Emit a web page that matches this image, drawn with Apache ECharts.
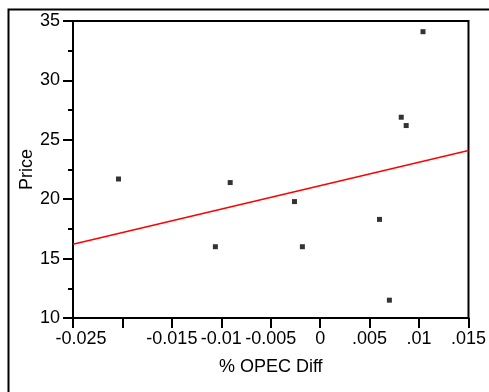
<!DOCTYPE html>
<html>
<head>
<meta charset="utf-8">
<script src="https://cdn.jsdelivr.net/npm/echarts@6/dist/echarts.min.js"></script>
<style>
  html, body { margin: 0; padding: 0; background: #fff; }
  #chart { width: 489px; height: 392px; }
</style>
</head>
<body>
<div id="chart"></div>
<script>
// OPEC production change vs. oil price
const opecDiff = [-0.0204, -0.0091, 0.0104, 0.0082, 0.0087, -0.0106, -0.0026, -0.0018, 0.0060, 0.0070];
const price    = [21.7, 21.4, 34.1, 26.9, 26.2, 16.0, 19.8, 16.0, 18.3, 11.5];

// fitted regression line (end points)
const fitX = [-0.025, 0.015];
const fitY = [16.2, 24.1];

// x tick labels, -0.025 .. 0.015 every 0.005 (the -0.02 label is left blank)
const xTickLabels = ['-0.025', '', '-0.015', '-0.01', '-0.005', '0', '.005', '.01', '.015'];

const FONT = "'Liberation Sans', Arial, sans-serif";
const FS = 18;

const chart = echarts.init(document.getElementById('chart'), null, { renderer: 'canvas' });

chart.setOption({
  backgroundColor: '#fff',
  animation: false,
  textStyle: { fontFamily: FONT },
  graphic: [{
    type: 'rect',
    left: 6, top: 7,
    shape: { width: 600, height: 600 },
    style: { fill: 'none', stroke: '#000', lineWidth: 2 },
    silent: true,
    z: -1
  }],
  grid: {
    left: 73, top: 21, right: 19, bottom: 74,
    show: true, borderColor: '#000', borderWidth: 2, backgroundColor: 'transparent'
  },
  xAxis: {
    type: 'value',
    min: -0.025, max: 0.015, interval: 0.005,
    name: '% OPEC Diff',
    nameLocation: 'middle',
    nameGap: 40,
    nameMoveOverlap: false,
    nameTextStyle: { color: '#000', fontSize: FS, fontFamily: FONT },
    axisLine: { show: true, onZero: false, lineStyle: { color: '#000', width: 2 } },
    axisTick: { show: true, inside: false, length: 10, lineStyle: { color: '#000', width: 2 } },
    splitLine: { show: false },
    axisLabel: {
      color: '#000', fontSize: FS, fontFamily: FONT, margin: 12,
      showMinLabel: true, showMaxLabel: true,
      formatter: function (v, i) {
        const idx = Math.round((v + 0.025) / 0.005);
        const s = xTickLabels[idx] || '';
        return idx === 0 ? '{first|' + s + '}' : s;
      },
      rich: { first: { fontSize: FS, fontFamily: FONT, color: '#000', padding: [0, 0, 0, 16] } }
    }
  },
  yAxis: {
    type: 'value',
    min: 10, max: 35, interval: 5,
    name: 'Price',
    nameLocation: 'middle',
    nameGap: 37,
    nameMoveOverlap: false,
    nameTextStyle: { color: '#000', fontSize: FS, fontFamily: FONT },
    axisLine: { show: true, onZero: false, lineStyle: { color: '#000', width: 2 } },
    axisTick: { show: true, inside: false, length: 10, lineStyle: { color: '#000', width: 2 } },
    minorTick: { show: true, splitNumber: 2, length: 5, lineStyle: { color: '#000', width: 2 } },
    splitLine: { show: false },
    minorSplitLine: { show: false },
    axisLabel: { color: '#000', fontSize: FS, fontFamily: FONT, margin: 13 }
  },
  series: [
    {
      type: 'line',
      data: fitX.map((x, i) => [x, fitY[i]]),
      showSymbol: false,
      lineStyle: { color: '#ff0000', width: 1.5 },
      z: 2
    },
    {
      type: 'scatter',
      data: opecDiff.map((x, i) => [x, price[i]]),
      symbol: 'rect',
      symbolSize: 5,
      itemStyle: { color: '#000' },
      z: 3
    }
  ]
});
</script>
</body>
</html>
